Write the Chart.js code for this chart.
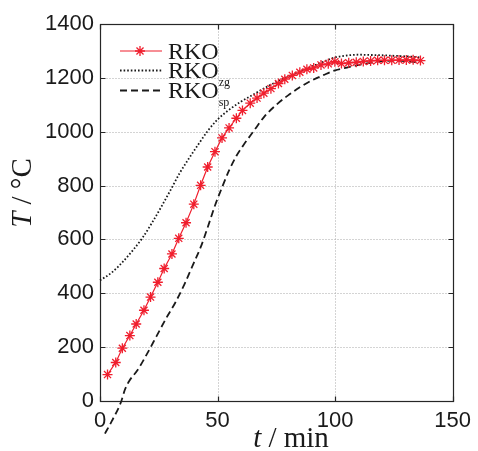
<!DOCTYPE html>
<html><head><meta charset="utf-8">
<script src="https://cdn.jsdelivr.net/npm/chart.js@4.4.0/dist/chart.umd.min.js"></script>
<style>html,body{margin:0;padding:0;background:#fff;}#wrap{width:478px;height:451px;}</style>
</head><body><div id="wrap"><canvas id="c" width="478" height="451"></canvas></div>
<script>
// ---- data ----
const seriesNames = ['RKO', 'RKO', 'RKO'];
const seriesSubs = ['', 'zg', 'sp'];
const xTicks = [0, 50, 100, 150];
const yTicks = [0, 200, 400, 600, 800, 1000, 1200, 1400];

const rkoTime = [3.2, 6.7, 9.5, 12.7, 15.4, 18.7, 21.5, 24.6, 27.3, 30.6, 33.5, 36.6, 39.9, 42.8, 45.8, 48.9, 51.9, 54.9, 58.0, 60.6, 63.9, 66.8, 69.7, 72.7, 75.9, 78.6, 81.8, 85.0, 88.0, 90.9, 94.0, 97.1, 99.9, 102.7, 105.8, 109.0, 112.0, 115.1, 118.1, 121.0, 124.1, 127.2, 130.3, 133.2, 136.3];
const rkoTemp = [98, 143, 196, 243, 286, 337, 386, 441, 492, 546, 604, 662, 731, 801, 869, 926, 977, 1014, 1050, 1079, 1106, 1125, 1143, 1160, 1179, 1195, 1209, 1221, 1232, 1237, 1248, 1252, 1260, 1253, 1256, 1258, 1261, 1263, 1265, 1265, 1265, 1266, 1266, 1267, 1264];

const zgTime = [0, 5, 9.5, 14, 18, 22, 26, 30, 34, 38, 42, 46, 50, 55, 60, 65, 70, 75, 80, 85, 90, 95, 100, 105, 110, 115, 120, 125, 130, 136.3];
const zgTemp = [448, 477, 515, 560, 605, 660, 720, 783, 848, 903, 955, 1005, 1045, 1082, 1112, 1137, 1162, 1185, 1205, 1225, 1242, 1260, 1276, 1283, 1286, 1285, 1284, 1282, 1280, 1276];

const spTime = [2.1, 5, 9.1, 10.5, 12.5, 16, 20, 24, 28, 32, 36, 40, 43, 46, 49, 52, 55, 58, 61, 65, 70, 75, 80, 85, 90, 95, 100, 105, 110, 115, 120, 125, 130, 136.3];
const spTemp = [-121, -75, 0, 40, 75, 115, 175, 240, 305, 365, 435, 515, 575, 650, 728, 795, 858, 910, 950, 998, 1057, 1100, 1135, 1165, 1190, 1210, 1228, 1238, 1248, 1256, 1262, 1264, 1262, 1257];

const pts = (xs, ys) => xs.map((v, i) => ({x: v, y: ys[i]}));

const RED = 'rgb(240,30,45)';
const styles = [
  {color: RED, dash: [], width: 1.2, star: true},
  {color: '#1a1a1a', dash: [1.6, 2], width: 1.8, star: false},
  {color: '#1a1a1a', dash: [7, 4], width: 1.8, star: false}
];

const framePlugin = {
  id: 'frame',
  beforeDatasetsDraw(chart) {
    const {ctx, chartArea: a, scales: {x, y}} = chart;
    ctx.save();
    const L = Math.round(a.left) + 0.5, R = Math.round(a.right) + 0.5;
    const T = Math.round(a.top) + 0.5, B = Math.round(a.bottom) + 0.5;
    // dotted grid
    ctx.strokeStyle = '#a8a8a8'; ctx.lineWidth = 1; ctx.setLineDash([1, 2]);
    ctx.beginPath();
    xTicks.forEach(v => {
      const px = Math.round(x.getPixelForValue(v)) + 0.5;
      if (px > L + 1 && px < R - 1) { ctx.moveTo(px, B); ctx.lineTo(px, T); }
    });
    yTicks.forEach(v => {
      const py = Math.round(y.getPixelForValue(v)) + 0.5;
      if (py > T + 1 && py < B - 1) { ctx.moveTo(L, py); ctx.lineTo(R, py); }
    });
    ctx.stroke();
    ctx.setLineDash([]);
    // box
    ctx.strokeStyle = '#262626'; ctx.lineWidth = 1.2;
    ctx.strokeRect(L, T, R - L, B - T);
    const tl = 5;
    ctx.beginPath();
    xTicks.forEach(v => {
      const px = Math.round(x.getPixelForValue(v)) + 0.5;
      ctx.moveTo(px, B); ctx.lineTo(px, B - tl);
      ctx.moveTo(px, T); ctx.lineTo(px, T + tl);
    });
    yTicks.forEach(v => {
      const py = Math.round(y.getPixelForValue(v)) + 0.5;
      ctx.moveTo(L, py); ctx.lineTo(L + tl, py);
      ctx.moveTo(R, py); ctx.lineTo(R - tl, py);
    });
    ctx.stroke();
    ctx.restore();
  },
  afterDraw(chart) {
    const {ctx} = chart;
    ctx.save();
    // legend
    const rowY = [51, 70.5, 90.5];
    const x0 = 120, x1 = 162, tx = 168;
    rowY.forEach((yy, i) => {
      const s = styles[i];
      ctx.strokeStyle = s.color; ctx.lineWidth = s.width; ctx.setLineDash(s.dash);
      ctx.beginPath(); ctx.moveTo(x0, yy); ctx.lineTo(x1, yy); ctx.stroke();
      ctx.setLineDash([]);
      if (s.star) {
        ctx.lineWidth = 1.3;
        const cx = 140, r = 5;
        ctx.beginPath();
        for (let k = 0; k < 4; k++) {
          const ang = k * Math.PI / 4;
          ctx.moveTo(cx + r * Math.cos(ang), yy + r * Math.sin(ang));
          ctx.lineTo(cx - r * Math.cos(ang), yy - r * Math.sin(ang));
        }
        ctx.stroke();
      }
      ctx.fillStyle = '#1a1a1a';
      ctx.textBaseline = 'alphabetic'; ctx.textAlign = 'left';
      ctx.font = '24px "Liberation Serif", "Times New Roman", serif';
      ctx.fillText(seriesNames[i], tx, yy + 7.5);
      const w = ctx.measureText(seriesNames[i]).width;
      if (seriesSubs[i]) {
        ctx.font = '12px "Liberation Serif", "Times New Roman", serif';
        ctx.fillText(seriesSubs[i], tx + w, yy + 15);
      }
    });
    // axis titles
    const drawMixed = (parts, cx, cy) => {
      let total = 0;
      parts.forEach(p => { ctx.font = p.f; total += ctx.measureText(p.t).width; });
      let xx = cx - total / 2;
      parts.forEach(p => { ctx.font = p.f; ctx.fillText(p.t, xx, cy); xx += ctx.measureText(p.t).width; });
    };
    ctx.fillStyle = '#1a1a1a';
    ctx.textBaseline = 'middle'; ctx.textAlign = 'left';
    const it = 'italic 29px "Liberation Serif", "Times New Roman", serif';
    const rg = '29px "Liberation Serif", "Times New Roman", serif';
    drawMixed([{t: 't', f: it}, {t: ' / min', f: rg}], 291, 439);
    ctx.save();
    ctx.translate(23, 193);
    ctx.rotate(-Math.PI / 2);
    drawMixed([{t: 'T', f: it}, {t: ' / \u00B0C', f: rg}], 0, 0);
    ctx.restore();
    ctx.restore();
  }
};

const tickFont = {family: '"Liberation Sans", Arial, sans-serif', size: 22};

new Chart(document.getElementById('c'), {
  type: 'scatter',
  data: {
    datasets: [
      {label: 'RKO', data: pts(rkoTime, rkoTemp), showLine: true, borderColor: RED, borderWidth: 1.2,
       pointStyle: 'star', pointRadius: 5, pointBorderColor: RED, pointBackgroundColor: RED, pointBorderWidth: 1.3, tension: 0, clip: false, order: 1},
      {label: 'RKO_zg', data: pts(zgTime, zgTemp), showLine: true, borderColor: '#1a1a1a', borderWidth: 1.8,
       borderDash: [1.6, 2], pointRadius: 0, cubicInterpolationMode: 'monotone', clip: false, order: 2},
      {label: 'RKO_sp', data: pts(spTime, spTemp), showLine: true, borderColor: '#1a1a1a', borderWidth: 1.8,
       borderDash: [7, 4], pointRadius: 0, cubicInterpolationMode: 'monotone', clip: false, order: 3}
    ]
  },
  options: {
    responsive: false,
    animation: false,
    devicePixelRatio: 1,
    layout: {padding: {top: 24, right: 20, left: 0, bottom: 0}},
    plugins: {legend: {display: false}, tooltip: {enabled: false}},
    scales: {
      x: {
        type: 'linear', min: 0, max: 150,
        afterBuildTicks: s => { s.ticks = xTicks.map(v => ({value: v})); },
        afterFit: s => { s.height = 50; },
        ticks: {font: tickFont, color: '#1a1a1a', padding: 7, maxRotation: 0, callback: v => String(v)},
        grid: {display: false, drawTicks: false},
        border: {display: false}
      },
      y: {
        type: 'linear', min: 0, max: 1400,
        afterBuildTicks: s => { s.ticks = yTicks.map(v => ({value: v})); },
        afterFit: s => { s.width = 100; },
        ticks: {font: tickFont, color: '#1a1a1a', padding: 6, callback: v => String(v)},
        grid: {display: false, drawTicks: false},
        border: {display: false}
      }
    }
  },
  plugins: [framePlugin]
});
</script>
</body></html>
